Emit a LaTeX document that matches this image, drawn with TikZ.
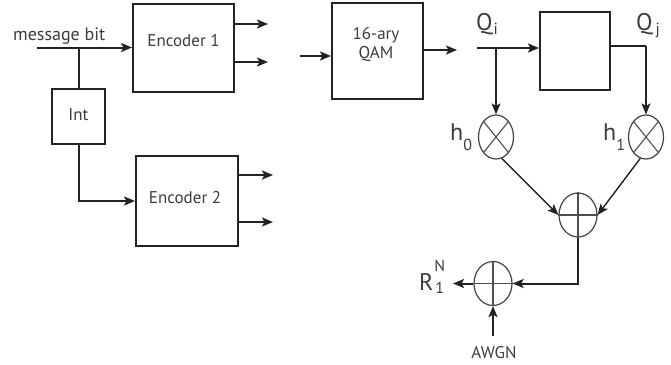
\documentclass[tikz,border=0pt]{standalone}
\usepackage{fontspec}
\setmainfont{PT Sans}
\usetikzlibrary{arrows.meta,shapes.geometric}
\definecolor{linec}{HTML}{222222}
\definecolor{textc}{HTML}{3c3c3c}
\newcommand\subfont{\fontsize{16}{16}\selectfont}
\tikzset{
  ar/.style={-{Stealth[length=11pt,width=9pt,inset=2.5pt]}},
  conn/.style={draw=linec, line width=2pt},
  thinconn/.style={draw=linec, line width=1.4pt},
  crossl/.style={draw=linec!80, line width=1.1pt},
  blk/.style={draw=linec, line width=2pt, inner sep=0pt},
  txt/.style={text=textc, font=\fontsize{17}{19}\selectfont, inner sep=0pt, align=center},
  big/.style={text=textc, font=\fontsize{24}{24}\selectfont, inner sep=0pt},
  opnode/.style={draw=linec!85, line width=1.2pt, ellipse, inner sep=0pt, minimum width=35pt, minimum height=44pt},
}
\begin{document}
\begin{tikzpicture}[x=1pt,y=-1pt]
\useasboundingbox (0,0) rectangle (671,364);
% blocks
\node[blk, minimum width=101pt, minimum height=88pt] (enc1) at (183.5,47.5) {};
\node[txt] (enc1t) at (183.5,41) {Encoder 1};
\node[blk, minimum width=53pt, minimum height=55pt] (int) at (78.5,116.5) {};
\node[txt] (intt) at (78.5,115) {Int};
\node[blk, minimum width=102pt, minimum height=90pt] (enc2) at (187,201) {};
\node[txt] (enc2t) at (185,198) {Encoder 2};
\node[blk, minimum width=91pt, minimum height=96pt] (qam) at (377.5,51) {};
\node[txt] (qamt) at (376,45) {16-ary\\QAM};
\node[blk, minimum width=70pt, minimum height=78pt] (dly) at (575,51) {};
% operators
\node[opnode] (m0) at (496,137) {};
\draw[crossl] (m0.north east) -- (m0.south west) (m0.north west) -- (m0.south east);
\node[opnode] (m1) at (646,137) {};
\draw[crossl] (m1.north east) -- (m1.south west) (m1.north west) -- (m1.south east);
\node[opnode, minimum width=38pt] (a1) at (578,215) {};
\draw[crossl] (a1.north) -- (a1.south) (a1.west) -- (a1.east);
\node[opnode, minimum width=38pt] (a2) at (493,283.5) {};
\draw[crossl] (a2.north) -- (a2.south) (a2.west) -- (a2.east);
% labels
\node[txt, font=\fontsize{18}{18}\selectfont, anchor=base west] (msgt) at (13,40) {message bit};
\node[big, anchor=base west] (qi) at (476,30) {Q\kern1pt\raisebox{-5pt}{\subfont i}};
\node[big, anchor=base west] (qj) at (636,30) {Q\kern3pt\raisebox{-5pt}{\subfont j}};
\node[big, anchor=base west] (h0) at (450,140) {h\raisebox{-10pt}{\subfont 0}};
\node[big, anchor=base west] (h1) at (603,140) {h\raisebox{-10pt}{\subfont 1}};
\node[big, anchor=base west] (rn) at (419,290) {R\kern1pt\raisebox{19pt}{\rlap{\subfont N}}\raisebox{-3pt}{\subfont\kern1pt 1}};
\node[txt, anchor=base] (awgn) at (494,358) {AWGN};
% coordinates
\coordinate (msg) at (37,47.5);
\coordinate (j1) at (78.5,47.5);
\coordinate (o1a) at (268,24);
\coordinate (o1b) at (268,62);
\coordinate (o2a) at (273,175);
\coordinate (o2b) at (273,222);
\coordinate (qin) at (300,56);
\coordinate (qout) at (457,50);
\coordinate (qs) at (477,48);
\coordinate (j2) at (496,48);
\coordinate (dout) at (610,46);
\coordinate (rout) at (453,283.5);
\coordinate (nin) at (493,336);
% connectors
\draw[conn, ar] (msg) -- (enc1.west);
\draw[conn] (j1) -- (int.north);
\draw[conn, ar] (int.south) |- (enc2.west);
\draw[conn, ar] (enc1.east |- o1a) -- (o1a);
\draw[conn, ar] (enc1.east |- o1b) -- (o1b);
\draw[conn, ar] (enc2.east |- o2a) -- (o2a);
\draw[conn, ar] (enc2.east |- o2b) -- (o2b);
\draw[conn, ar] (qin) -- (qam.west |- qin);
\draw[conn, ar] (qam.east |- qout) -- (qout);
\draw[conn, ar] (qs) -- (dly.west |- qs);
\draw[thinconn, ar] (j2) -- (m0.north);
\draw[conn] (dly.east |- dout) -| (m1.north |- dout);
\draw[thinconn, ar] (m1.north |- dout) -- (m1.north);
\draw[thinconn, ar] (m0.-75) -- (a1.west);
\draw[thinconn, ar] (m1.-105) -- (a1.east);
\draw[conn, ar] (a1.south) |- (a2.east);
\draw[conn, ar] (a2.west) -- (rout);
\draw[conn, ar] (nin) -- (a2.south);
\end{tikzpicture}
\end{document}
